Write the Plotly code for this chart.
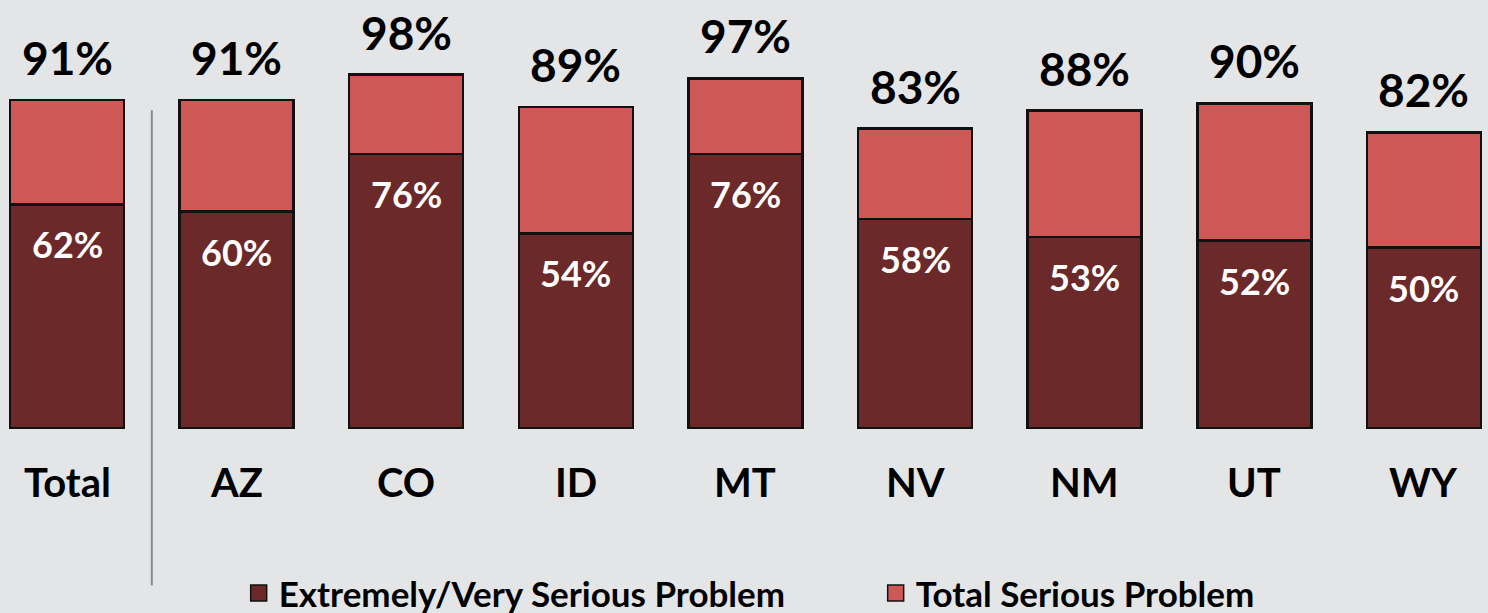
import plotly.graph_objects as go

categories = ["Total", "AZ", "CO", "ID", "MT", "NV", "NM", "UT", "WY"]
extreme_very = [62, 60, 76, 54, 76, 58, 53, 52, 50]
total_serious = [91, 91, 98, 89, 97, 83, 88, 90, 82]

series_names = ["Extremely/Very Serious Problem", "Total Serious Problem"]
dark = "#6b2929"
light = "#cd5856"
bg = "#e4e5e7"
font_family = "Lato, 'Open Sans', sans-serif"

x = list(range(len(categories)))
upper = [t - e for t, e in zip(total_serious, extreme_very)]

fig = go.Figure()
fig.add_trace(go.Bar(
    x=x, y=extreme_very, width=0.672,
    marker=dict(color=dark, line=dict(color="#111111", width=2.5)),
    showlegend=False, hoverinfo="skip",
))
fig.add_trace(go.Bar(
    x=x, y=upper, width=0.672,
    marker=dict(color=light, line=dict(color="#111111", width=2.5)),
    showlegend=False, hoverinfo="skip",
))
# legend proxies
fig.add_trace(go.Scatter(
    x=[None], y=[None], mode="markers", name=series_names[0], legendwidth=592,
    marker=dict(symbol="square", size=20, color=dark, line=dict(color="#111111", width=1.5)),
))
fig.add_trace(go.Scatter(
    x=[None], y=[None], mode="markers", name=series_names[1],
    marker=dict(symbol="square", size=20, color=light, line=dict(color="#111111", width=1.5)),
))

annotations = []
for xi, cat, e, t in zip(x, categories, extreme_very, total_serious):
    annotations.append(dict(
        x=xi, y=t, xref="x", yref="y", text=f"<b>{t}%</b>", showarrow=False,
        yanchor="bottom", yshift=13,
        font=dict(family=font_family, size=46, color="#000000"),
    ))
    annotations.append(dict(
        x=xi, y=e, xref="x", yref="y", text=f"<b>{e}%</b>", showarrow=False,
        yanchor="middle", yshift=-40,
        font=dict(family=font_family, size=36, color="#ffffff"),
    ))
    annotations.append(dict(
        x=xi, y=-15, xref="x", yref="y", text=f"<b>{cat}</b>", showarrow=False,
        yanchor="middle",
        font=dict(family=font_family, size=40, color="#000000"),
    ))

fig.update_layout(
    width=1488, height=613,
    barmode="stack",
    paper_bgcolor=bg, plot_bgcolor=bg,
    margin=dict(l=0, r=0, t=0, b=0, autoexpand=False),
    xaxis=dict(range=[-0.395, 8.378], visible=False, fixedrange=True),
    yaxis=dict(range=[-51.3, 118.7], visible=False, fixedrange=True),
    annotations=annotations,
    shapes=[dict(type="line", xref="x", yref="paper", x0=0.5, x1=0.5,
                 y0=0.045, y1=0.82, line=dict(color="#8a8a8a", width=2))],
    legend=dict(
        orientation="h", x=0.1604, xanchor="left", y=-0.016, yanchor="bottom",
        font=dict(family=font_family, size=35, color="#000000", weight="bold"),
        bgcolor="rgba(0,0,0,0)",
        itemsizing="trace", traceorder="normal",
    ),
    showlegend=True,
)

fig.write_html(
    "out.html",
    config={"displayModeBar": False},
    post_script="document.body.style.margin='0';document.body.style.background='#e4e5e7';document.body.style.overflow='hidden';",
)
